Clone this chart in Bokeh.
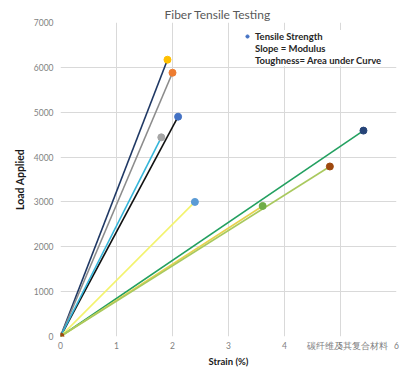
from bokeh.plotting import figure
from bokeh.models import Range1d, Legend, LegendItem, FixedTicker
from bokeh.embed import file_html
from bokeh.resources import INLINE

# Data
strain_end = [1.91, 2.00, 2.10, 1.80, 2.40, 5.41, 3.61, 4.81]
load_end = [6170, 5880, 4900, 4440, 3000, 4590, 2910, 3790]
strain_start = [0, 0, 0, 0, 0, 0, 0, 0]
load_start = [0, 0, 0, 0, 0, 0, 0, 0]
line_colors = ["#1F3864", "#8C8C8C", "#111111", "#35B6DA", "#F3F36E",
               "#23A060", "#E6D24E", "#A9C95E"]
marker_colors = ["#FFC000", "#ED7D31", "#4472C4", "#A5A5A5", "#5B9BD5",
                 "#264478", "#70AD47", "#9E480E"]
x_ticks = [0, 1, 2, 3, 4, 5, 6]
y_ticks = [0, 1000, 2000, 3000, 4000, 5000, 6000, 7000]
legend_labels = ["Tensile Strength", "Slope = Modulus", "Toughness= Area under Curve"]
title_text = "Fiber Tensile Testing"
x_label = "Strain (%)"
y_label = "Load Applied"
watermark = "碳纤维及其复合材料"
watermark_at = 5.12  # x position (strain units) of the watermark, on the tick row

FONT = "Lato"

p = figure(width=400, height=369, output_backend="svg", toolbar_location=None,
           x_range=Range1d(0, 6), y_range=Range1d(0, 7000),
           min_border_left=60, min_border_right=4, min_border_top=22,
           min_border_bottom=30)
p.outline_line_color = None
p.background_fill_color = "white"
p.border_fill_color = "white"

p.title.text = title_text
p.title.align = "left"
p.title.offset = 104
p.title.text_font = FONT
p.title.text_font_size = "12px"
p.title.text_font_style = "normal"
p.title.text_color = "#595959"
p.title.standoff = 2

for ax in (p.xaxis[0], p.yaxis[0]):
    ax.axis_line_color = None
    ax.major_tick_line_color = None
    ax.minor_tick_line_color = None
    ax.major_tick_out = 0
    ax.major_tick_in = 0
    ax.minor_tick_out = 0
    ax.minor_tick_in = 0
    ax.major_label_text_font = FONT
    ax.major_label_text_font_size = "8.5px"
    ax.major_label_text_color = "#7F7F7F"
    ax.axis_label_text_font = FONT
    ax.axis_label_text_font_style = "bold"
    ax.axis_label_text_color = "#1A1A1A"
p.xaxis.axis_label_text_font_size = "9.5px"
p.yaxis.axis_label_text_font_size = "10.5px"

p.xaxis.ticker = FixedTicker(ticks=x_ticks + [watermark_at])
p.xaxis.major_label_overrides = {watermark_at: watermark}
p.yaxis.ticker = FixedTicker(ticks=y_ticks)
p.xgrid.ticker = FixedTicker(ticks=x_ticks)
p.ygrid.ticker = FixedTicker(ticks=y_ticks)
p.xaxis.axis_label = x_label
p.yaxis.axis_label = y_label
p.xaxis.major_label_standoff = 4
p.xaxis.axis_label_standoff = 2
p.yaxis.major_label_standoff = 7
p.yaxis.axis_label_standoff = 5

p.xgrid.grid_line_color = "#D9D9D9"
p.ygrid.grid_line_color = "#D9D9D9"

xs = [[x0, x1] for x0, x1 in zip(strain_start, strain_end)]
ys = [[y0, y1] for y0, y1 in zip(load_start, load_end)]
p.multi_line(xs=xs, ys=ys, line_color=line_colors, line_width=1.6)

r_pts = p.scatter(x=strain_end, y=load_end, size=7, fill_color=marker_colors,
                  line_color=marker_colors)
p.scatter(x=[strain_start[0]], y=[load_start[0]], size=7,
          fill_color=marker_colors[-1], line_color=marker_colors[-1])

r_none = p.scatter(x=[], y=[], size=0, fill_alpha=0, line_alpha=0)
legend = Legend(items=[LegendItem(label=legend_labels[0], renderers=[r_pts], index=2),
                       LegendItem(label=legend_labels[1], renderers=[r_none]),
                       LegendItem(label=legend_labels[2], renderers=[r_none])],
                location=(183, 270))
legend.border_line_color = None
legend.background_fill_color = "white"
legend.background_fill_alpha = 1
legend.label_text_font = FONT
legend.label_text_font_size = "9.5px"
legend.label_text_font_style = "bold"
legend.label_text_color = "#262626"
legend.glyph_width = 8
legend.glyph_height = 12
legend.label_height = 12
legend.label_standoff = 4
legend.spacing = 0
legend.padding = 4
legend.margin = 0
p.add_layout(legend)

open("out.html", "w").write(file_html(p, INLINE))
